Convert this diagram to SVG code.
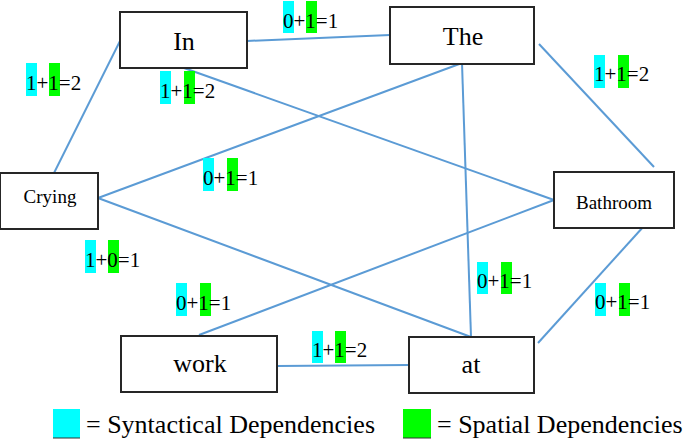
<svg xmlns="http://www.w3.org/2000/svg" width="685" height="441" viewBox="0 0 685 441">
<style>
.node rect{fill:#fff;stroke:#262626;stroke-width:2}
.nt{fill:#000;text-anchor:middle}
.big{font-size:26px}
.small{font-size:19px}
#connectors line{stroke:#5b9bd5;stroke-width:2}
.lbl{font-size:21px;fill:#000}
.c{fill:#00ffff}
.g{fill:#00ff00}
.leg{font-size:26px;fill:#000}
</style>
<rect width="685" height="441" fill="#fff"/>
<g id="connectors">
<line x1="54" y1="173" x2="120" y2="41"/>
<line x1="247" y1="41" x2="390" y2="35"/>
<line x1="184" y1="68" x2="554" y2="200"/>
<line x1="462" y1="63" x2="98" y2="198"/>
<line x1="462" y1="63" x2="471" y2="337"/>
<line x1="539" y1="44" x2="654" y2="167"/>
<line x1="98" y1="198" x2="471" y2="337"/>
<line x1="554" y1="200" x2="199" y2="335"/>
<line x1="277" y1="366" x2="409" y2="365"/>
<line x1="644" y1="226" x2="538" y2="343"/>
</g>
<g font-family="'Liberation Serif', 'DejaVu Serif', serif">
<g id="node-in" class="node"><rect x="120" y="12" width="127" height="56"/><text class="nt big" x="184" y="50">In</text></g>
<g id="node-the" class="node"><rect x="390" y="7" width="144" height="57"/><text class="nt big" x="463" y="45">The</text></g>
<g id="node-crying" class="node"><rect x="0" y="173" width="98" height="56"/><text class="nt small" x="50" y="203">Crying</text></g>
<g id="node-bathroom" class="node"><rect x="554" y="172" width="120" height="56"/><text class="nt small" x="614" y="209">Bathroom</text></g>
<g id="node-work" class="node"><rect x="121" y="336" width="156" height="56"/><text class="nt big" x="200" y="372">work</text></g>
<g id="node-at" class="node"><rect x="409" y="337" width="125" height="56"/><text class="nt big" x="471" y="373">at</text></g>
<g id="labels">
<g><rect class="c" x="26" y="63" width="11" height="33"/><rect class="g" x="49" y="63" width="11" height="33"/><text class="lbl" x="26" y="90">1+1=2</text></g>
<g><rect class="c" x="283" y="1" width="11" height="32"/><rect class="g" x="306" y="1" width="11" height="32"/><text class="lbl" x="283" y="28">0+1=1</text></g>
<g><rect class="c" x="160" y="71" width="11" height="33"/><rect class="g" x="184" y="71" width="11" height="33"/><text class="lbl" x="160" y="98">1+1=2</text></g>
<g><rect class="c" x="594" y="55" width="11" height="33"/><rect class="g" x="618" y="55" width="11" height="33"/><text class="lbl" x="594" y="81">1+1=2</text></g>
<g><rect class="c" x="203" y="158" width="11" height="33"/><rect class="g" x="227" y="158" width="11" height="33"/><text class="lbl" x="203" y="185">0+1=1</text></g>
<g><rect class="c" x="85" y="240" width="11" height="33"/><rect class="g" x="108" y="240" width="11" height="33"/><text class="lbl" x="85" y="267">1+0=1</text></g>
<g><rect class="c" x="176" y="283" width="11" height="33"/><rect class="g" x="200" y="283" width="11" height="33"/><text class="lbl" x="176" y="310">0+1=1</text></g>
<g><rect class="c" x="477" y="262" width="11" height="32"/><rect class="g" x="501" y="262" width="11" height="32"/><text class="lbl" x="477" y="288">0+1=1</text></g>
<g><rect class="c" x="595" y="283" width="11" height="33"/><rect class="g" x="619" y="283" width="11" height="33"/><text class="lbl" x="595" y="309">0+1=1</text></g>
<g><rect class="c" x="312" y="331" width="11" height="32"/><rect class="g" x="335" y="331" width="11" height="32"/><text class="lbl" x="312" y="357">1+1=2</text></g>
</g>
<g id="legend">
<rect class="c" x="53" y="409" width="27" height="29"/><line x1="53" y1="438" x2="80" y2="438" stroke="#333" stroke-width="1"/>
<text class="leg" x="86" y="433">= Syntactical Dependencies</text>
<rect class="g" x="403" y="409" width="28" height="29"/><line x1="403" y1="438" x2="431" y2="438" stroke="#333" stroke-width="1"/>
<text class="leg" x="437" y="433">= Spatial Dependencies</text>
</g>
</g>
</svg>
